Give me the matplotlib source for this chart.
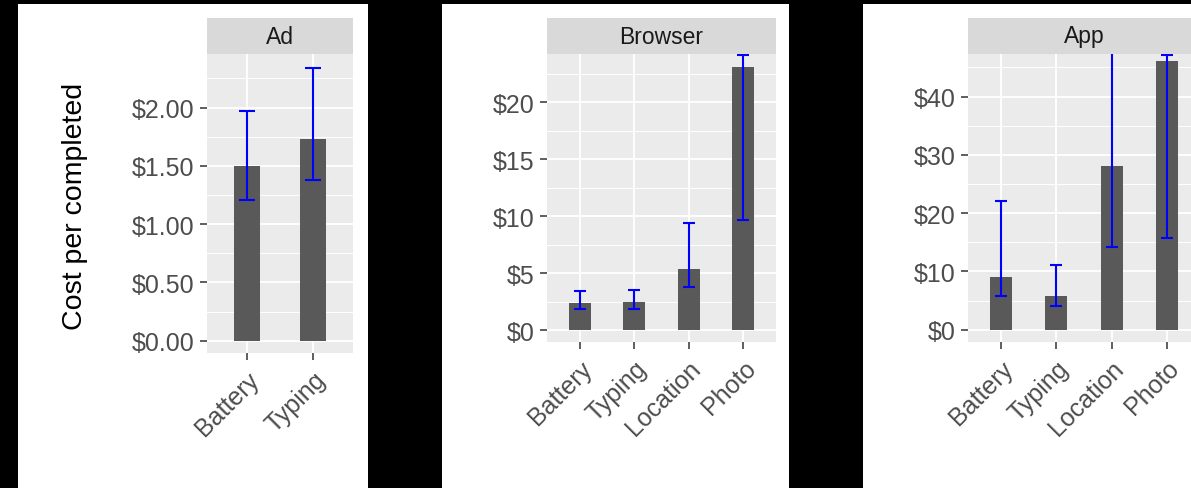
import matplotlib
matplotlib.use("Agg")
import matplotlib.pyplot as plt
from matplotlib.patches import Rectangle
import numpy as np

plt.rcParams['font.family'] = ['Liberation Sans', 'DejaVu Sans']

# ---------------- data ----------------
ad_categories = ["Battery", "Typing"]
ad_cost = [1.50, 1.73]
ad_low = [1.21, 1.38]
ad_high = [1.97, 2.34]

browser_categories = ["Battery", "Typing", "Location", "Photo"]
browser_cost = [2.37, 2.46, 5.36, 23.1]
browser_low = [1.85, 1.85, 3.80, 9.70]
browser_high = [3.43, 3.51, 9.37, 24.2]

app_categories = ["Battery", "Typing", "Location", "Photo"]
app_cost = [9.03, 5.77, 28.1, 46.06]
app_low = [5.71, 4.00, 14.17, 15.66]
app_high = [22.06, 11.14, 56.0, 47.2]

ad_ticks = [0.0, 0.5, 1.0, 1.5, 2.0]
ad_ticklabels = ["$0.00", "$0.50", "$1.00", "$1.50", "$2.00"]
browser_ticks = [0, 5, 10, 15, 20]
browser_ticklabels = ["$0", "$5", "$10", "$15", "$20"]
app_ticks = [0, 10, 20, 30, 40]
app_ticklabels = ["$0", "$10", "$20", "$30", "$40"]

y_title = "Cost per completed"

# ---------------- layout ----------------
W, H = 1191, 489
fig = plt.figure(figsize=(W / 100, H / 100), dpi=100, facecolor='black')


def white_panel(x0, y0, x1, y1):
    fig.add_artist(Rectangle((x0 / W, 1 - y1 / H), (x1 - x0) / W, (y1 - y0) / H,
                             transform=fig.transFigure, facecolor='white',
                             edgecolor='none', zorder=0))


def px_axes(x0, y0, x1, y1, **kw):
    return fig.add_axes([x0 / W, 1 - y1 / H, (x1 - x0) / W, (y1 - y0) / H], **kw)


white_panel(18, 5, 368, 489)
white_panel(442, 5, 789, 489)
white_panel(863, 5, 1191, 489)

FS_TICK = 18
FS_STRIP = 16.5
TICK_COL = '#4D4D4D'


def draw_panel(box, strip_title, cats, cost, low, high, ylim, ticks, ticklabels,
               minors, capsize):
    x0, y0, x1, y1 = box
    ax = px_axes(x0, y0, x1, y1)
    ax.set_facecolor('#EBEBEB')
    n = len(cats)
    xs = np.arange(n)
    for m in minors:
        ax.axhline(m, color='white', lw=0.7, zorder=1)
    for t in ticks:
        ax.axhline(t, color='white', lw=1.3, zorder=1)
    for xv in xs:
        ax.axvline(xv, color='white', lw=1.3, zorder=1)
    cost = np.array(cost)
    low = np.array(low)
    high = np.array(high)
    ax.bar(xs, cost, width=0.4, color='#595959', zorder=2)
    ax.errorbar(xs, cost, yerr=[cost - low, high - cost], fmt='none',
                ecolor='#0000FF', elinewidth=1.5, capsize=capsize,
                capthick=1.5, zorder=3)
    ax.set_xlim(-0.6, n - 0.4)
    ax.set_ylim(*ylim)
    ax.set_yticks(ticks)
    ax.set_yticklabels(ticklabels)
    ax.set_xticks(xs)
    ax.set_xticklabels(cats, rotation=45, ha='right', va='top',
                       rotation_mode='anchor')
    for s in ax.spines.values():
        s.set_visible(False)
    ax.tick_params(axis='both', length=5, width=1.1, color='#333333',
                   labelcolor=TICK_COL, labelsize=FS_TICK, pad=4)
    ax.tick_params(axis='x', pad=5)
    # strip
    sx = px_axes(x0, 19, x1, y0)
    sx.set_facecolor('#D9D9D9')
    sx.set_xticks([])
    sx.set_yticks([])
    for s in sx.spines.values():
        s.set_visible(False)
    sx.text(0.5, 0.5, strip_title, ha='center', va='center', fontsize=FS_STRIP,
            color='#1A1A1A', transform=sx.transAxes)
    return ax


draw_panel((207, 55, 353, 354), "Ad", ad_categories, ad_cost, ad_low, ad_high,
           (-0.105, 2.46), ad_ticks, ad_ticklabels,
           [0.25, 0.75, 1.25, 1.75, 2.25], 6.0)
draw_panel((547, 55, 776, 343), "Browser", browser_categories, browser_cost,
           browser_low, browser_high, (-1.05, 24.25), browser_ticks,
           browser_ticklabels, [2.5, 7.5, 12.5, 17.5, 22.5], 4.2)
draw_panel((968, 55, 1200, 343), "App", app_categories, app_cost, app_low,
           app_high, (-2.1, 47.3), app_ticks, app_ticklabels,
           [5, 15, 25, 35, 45], 4.0)

fig.text(75 / W, 1 - 206 / H, y_title, rotation=90, ha='center', va='center',
         fontsize=20.5, color='black')

fig.savefig("out.png", dpi=100, facecolor=fig.get_facecolor())
